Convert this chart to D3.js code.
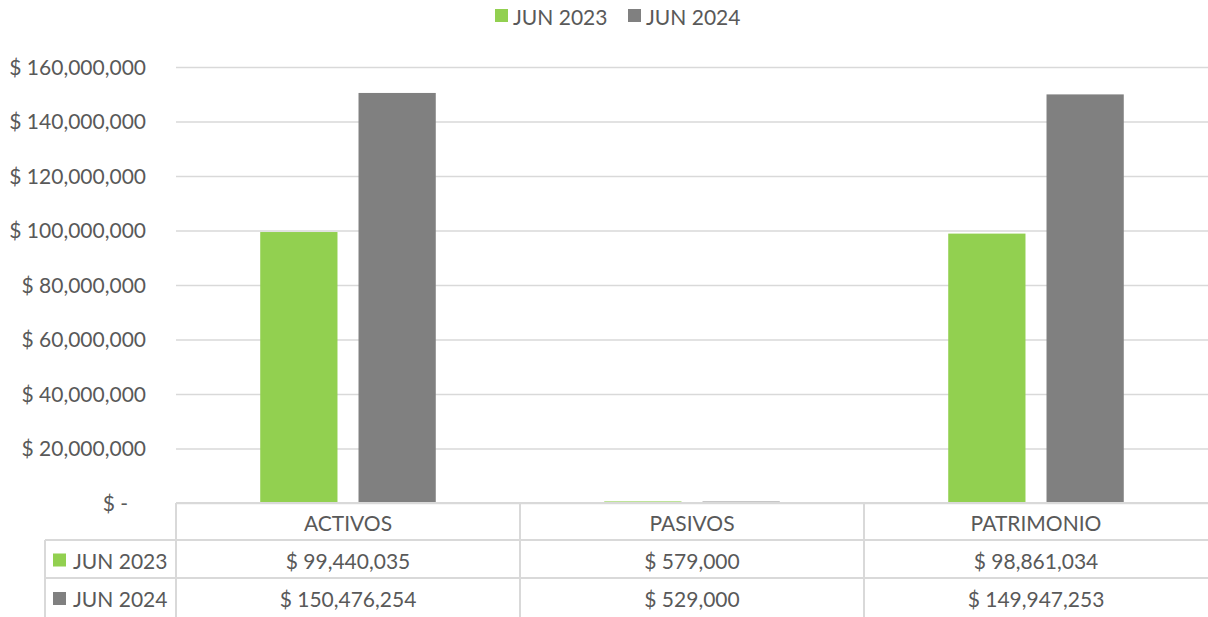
<!DOCTYPE html>
<html>
<head>
<meta charset="utf-8">
<script src="https://cdn.jsdelivr.net/npm/d3@7"></script>
<style>
  body { margin: 0; background: #fff; }
  svg { display: block; font-family: Lato, "Open Sans", sans-serif; }
</style>
</head>
<body>
<div id="chart"></div>
<script>
const categories = ["ACTIVOS", "PASIVOS", "PATRIMONIO"];
const seriesNames = ["JUN 2023", "JUN 2024"];
const jun2023 = [99440035, 579000, 98861034];
const jun2024 = [150476254, 529000, 149947253];
const yTicks = [0, 20000000, 40000000, 60000000, 80000000, 100000000, 120000000, 140000000, 160000000];
const colors = ["#92d050", "#808080"];

const W = 1208, H = 617;
const plot = { left: 176, right: 1208, top: 67, bottom: 503 };
const rows = [503, 540, 578, 617];
const gridColor = "#d9d9d9";
const textColor = "#595959";
const fontSize = 21;
const font = "Lato, 'Open Sans', sans-serif";

const svg = d3.select("#chart")
    .append("svg")
    .attr("width", W)
    .attr("height", H);

const x0 = d3.scaleBand().domain(categories).range([plot.left, plot.right]);
const x1 = d3.scaleBand().domain(seriesNames).range([0, x0.bandwidth()])
    .paddingInner(0.214).paddingOuter(0.857);
const y = d3.scaleLinear().domain([0, 160000000]).range([plot.bottom, plot.top]);

const fmt = d3.format(",");
const money = v => v === 0 ? "$ -" : "$ " + fmt(v);

// gridlines + y labels
svg.append("g")
    .attr("transform", `translate(${plot.left},0)`)
    .call(d3.axisLeft(y).tickValues(yTicks).tickSize(-(plot.right - plot.left)).tickFormat(money))
    .attr("font-family", font)
    .call(g => g.select(".domain").remove())
    .call(g => g.selectAll(".tick line").attr("stroke", gridColor).attr("stroke-width", 1.3))
    .call(g => g.selectAll(".tick text")
        .attr("x", d => d === 0 ? -48 : -30)
        .attr("dy", "0.35em")
        .attr("font-family", font)
        .attr("fill", textColor)
        .attr("font-size", fontSize));

// bars
const data = categories.map((c, i) => ({ cat: c, values: [jun2023[i], jun2024[i]] }));
const groups = svg.selectAll(".cat")
    .data(data)
    .enter()
    .append("g")
    .attr("class", "cat")
    .attr("transform", d => `translate(${x0(d.cat)},0)`);

groups.selectAll("rect")
    .data(d => d.values.map((v, j) => ({ s: seriesNames[j], v, j })))
    .enter()
    .append("rect")
    .attr("x", d => x1(d.s))
    .attr("width", x1.bandwidth())
    .attr("y", d => y(d.v))
    .attr("height", d => y(0) - y(d.v))
    .attr("fill", d => colors[d.j]);

// data table
const table = svg.append("g");
const tableLeft = 45;
table.append("line")
    .attr("x1", plot.left).attr("x2", plot.right)
    .attr("y1", rows[0]).attr("y2", rows[0])
    .attr("stroke", gridColor).attr("stroke-width", 2);
[rows[1], rows[2]].forEach(ry => {
    table.append("line")
        .attr("x1", tableLeft).attr("x2", plot.right)
        .attr("y1", ry).attr("y2", ry)
        .attr("stroke", gridColor).attr("stroke-width", 2);
});
table.append("line")
    .attr("x1", tableLeft).attr("x2", tableLeft)
    .attr("y1", rows[1]).attr("y2", rows[3])
    .attr("stroke", gridColor).attr("stroke-width", 2);
categories.forEach(c => {
    table.append("line")
        .attr("x1", x0(c)).attr("x2", x0(c))
        .attr("y1", rows[0]).attr("y2", rows[3])
        .attr("stroke", gridColor).attr("stroke-width", 2);
});

const cellText = (tx, ty, t) => table.append("text")
    .attr("x", tx).attr("y", ty)
    .attr("text-anchor", "middle")
    .attr("dominant-baseline", "central")
    .attr("fill", textColor)
    .attr("font-size", fontSize)
    .text(t);

categories.forEach((c, i) => {
    const cx = x0(c) + x0.bandwidth() / 2;
    cellText(cx, (rows[0] + rows[1]) / 2 + 1, c);
    cellText(cx, (rows[1] + rows[2]) / 2 + 1, money(jun2023[i]));
    cellText(cx, (rows[2] + rows[3]) / 2 + 1, money(jun2024[i]));
});

seriesNames.forEach((s, j) => {
    const cy = (rows[j + 1] + rows[j + 2]) / 2 + 1;
    table.append("rect")
        .attr("x", 53).attr("y", cy - 6.5)
        .attr("width", 13).attr("height", 13)
        .attr("fill", colors[j]);
    table.append("text")
        .attr("x", 73).attr("y", cy)
        .attr("dominant-baseline", "central")
        .attr("fill", textColor)
        .attr("font-size", fontSize)
        .text(s);
});

// legend
const legend = svg.append("g");
const legendX = [495, 628];
seriesNames.forEach((s, j) => {
    legend.append("rect")
        .attr("x", legendX[j]).attr("y", 9)
        .attr("width", 13).attr("height", 13)
        .attr("fill", colors[j]);
    legend.append("text")
        .attr("x", legendX[j] + 18).attr("y", 16)
        .attr("dominant-baseline", "central")
        .attr("fill", textColor)
        .attr("font-size", fontSize)
        .text(s);
});
</script>
</body>
</html>
